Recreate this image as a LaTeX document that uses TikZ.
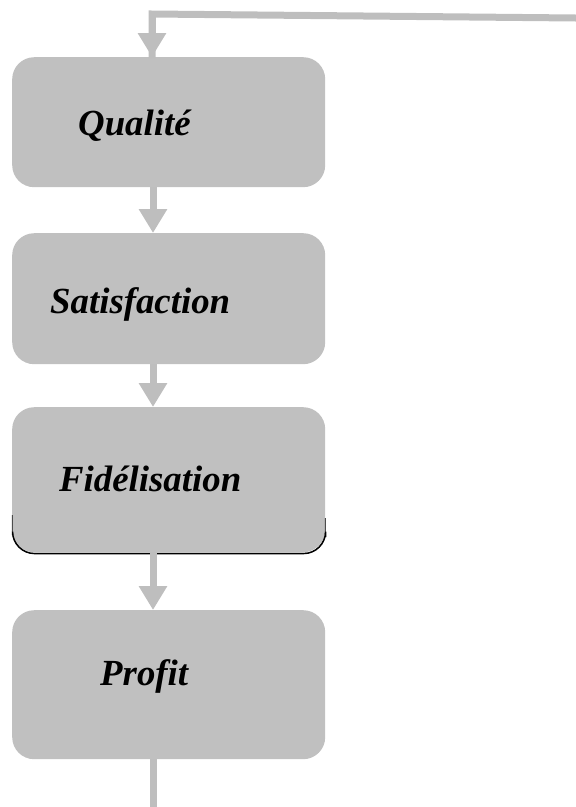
\documentclass[tikz,border=0pt]{standalone}
\usepackage{fontspec}
\setmainfont{Liberation Serif}
\usetikzlibrary{arrows.meta,calc}
\definecolor{boxgray}{HTML}{C0C0C0}
\definecolor{linkgray}{HTML}{BEBEBE}
\tikzset{
  stage/.style={fill=boxgray, draw=none, rounded corners=22pt, minimum width=313pt, inner sep=0pt},
  label/.style={anchor=base west, inner sep=0pt, font=\fontsize{36.8pt}{40pt}\selectfont\bfseries\itshape},
  link/.style={draw=linkgray, line width=7pt, -{Triangle[width=27pt,length=24pt,fill=linkgray]}},
  tail/.style={draw=linkgray, line width=7pt}
}
\begin{document}
\begin{tikzpicture}[x=1pt,y=-1pt]
\useasboundingbox (0,0) rectangle (576,807);
% the four stages
\node[stage, minimum height=130pt, anchor=north west] (q) at (12,57) {};
\node[stage, minimum height=131pt, anchor=north west] (s) at (12,233) {};
\node[stage, minimum height=145pt, anchor=north west] (f) at (12,407) {};
\node[stage, minimum height=149pt, anchor=north west] (p) at (12,610) {};
% dark shadow under the third stage, fading up the sides
\draw[black!70, line width=0.9pt, rounded corners=22pt]
  (12.4,515) -- (12.4,553.4) -- (325.4,553.4) -- (325.4,518);
\draw[black, line width=1.4pt, rounded corners=22pt]
  (12.6,535) -- (12.6,553.6) -- (325.6,553.6) -- (325.6,537);
% labels
\node[label] at (78,135) {Qualité};
\node[label] at (50,313) {Satisfaction};
\node[label] at (59,491) {Fidélisation};
\node[label] at (100,685) {Profit};
% feedback line entering from the right
\coordinate (tr) at (576,18);
\coordinate (tl) at (152,14);
\coordinate (ax) at (153,0);
\coordinate (bot) at (153,807);
\draw[tail, line join=miter] (tr) -- (tl) -- ([yshift=-1pt]tl |- q.north);
\draw[link] (tl) -- (tl |- q.north);
% connectors between stages
\draw[link] (ax |- q.south) -- (ax |- s.north);
\draw[link] (ax |- s.south) -- (ax |- f.north);
\draw[link] (ax |- f.south) -- (ax |- p.north);
\draw[tail] (ax |- p.south) -- (bot);
\end{tikzpicture}
\end{document}
